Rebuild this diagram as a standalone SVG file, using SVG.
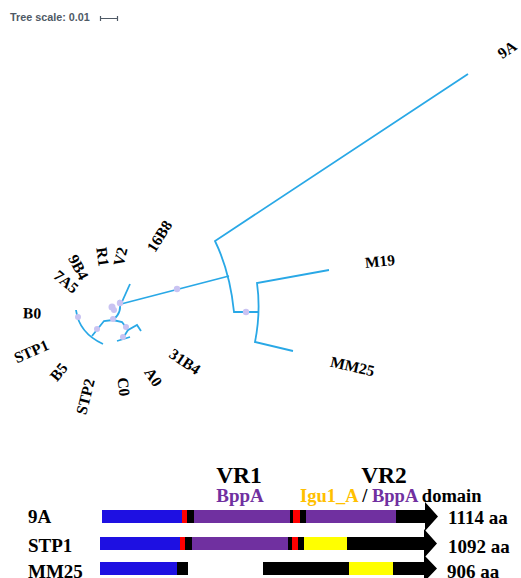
<svg xmlns="http://www.w3.org/2000/svg" width="521" height="578" viewBox="0 0 521 578">
<style>
.br{fill:none;stroke:#29a8e6;stroke-width:1.8;stroke-linejoin:miter}
.dot{fill:#c9c3f2}
.lab{font-family:"Liberation Serif","Times New Roman",serif;font-weight:bold;font-size:15.5px;fill:#000}
.big{font-family:"Liberation Serif","Times New Roman",serif;font-weight:bold}
.k{fill:#000}
.pu{fill:#7030a0}
.or{fill:#ffc000}
</style>
<rect width="521" height="578" fill="#fff"/>
<g id="scale">
<text x="10" y="21" font-family="Liberation Sans, Arial, sans-serif" font-size="10.8" font-weight="bold" fill="#4f5a66">Tree scale: 0.01</text>
<path d="M100.5,16 v5 M100.5,18.5 H117.5 M117.5,16 v5" stroke="#4f5a66" stroke-width="1.2" fill="none"/>
</g>
<g id="connectors">
<path class="br" d="M121,304 L229,276"/>
<path class="br" d="M468,74 L215,241 Q230,272 234,312 L259,312"/>
<path class="br" d="M329,270 L257,283 Q261,312 255,342 L293,351"/>
<path class="br" d="M130,284 L121,304"/>
<path class="br" d="M119,300 Q123,312 113,320"/>
<path class="br" d="M113,320 L104,321 L92,336"/>
<path class="br" d="M76,310 Q79,333 103,344"/>
<path class="br" d="M113,320 L122,322 L128,330 L137,325 L141,331"/>
<path class="br" d="M128,330 L123,338"/>
<path class="br" d="M117,341 L130,337"/>
<circle class="dot" cx="177" cy="289" r="3.2"/>
<circle class="dot" cx="246" cy="312" r="3.2"/>
<circle class="dot" cx="120" cy="303" r="3.2"/>
<circle class="dot" cx="112" cy="307" r="3.5"/>
<circle class="dot" cx="114" cy="310" r="3"/>
<circle class="dot" cx="113" cy="319" r="3"/>
<circle class="dot" cx="78" cy="317" r="3"/>
<circle class="dot" cx="97" cy="329" r="3"/>
<circle class="dot" cx="126" cy="327" r="3"/>
<circle class="dot" cx="123" cy="337" r="3"/>
</g>
<g id="leaves">
<text class="lab" transform="translate(508,51) rotate(-35)" text-anchor="middle" dominant-baseline="middle">9A</text>
<text class="lab" transform="translate(380,263) rotate(-6)" text-anchor="middle" dominant-baseline="middle">M19</text>
<text class="lab" transform="translate(352,368) rotate(13)" text-anchor="middle" dominant-baseline="middle">MM25</text>
<text class="lab" transform="translate(161,237) rotate(-58)" text-anchor="middle" dominant-baseline="middle">16B8</text>
<text class="lab" transform="translate(122,257) rotate(-76)" text-anchor="middle" dominant-baseline="middle">V2</text>
<text class="lab" transform="translate(101,257) rotate(82)" text-anchor="middle" dominant-baseline="middle">R1</text>
<text class="lab" transform="translate(77,268) rotate(62)" text-anchor="middle" dominant-baseline="middle">9B4</text>
<text class="lab" transform="translate(65,283) rotate(40)" text-anchor="middle" dominant-baseline="middle">7A5</text>
<text class="lab" transform="translate(32,315) rotate(2)" text-anchor="middle" dominant-baseline="middle">B0</text>
<text class="lab" transform="translate(32,353) rotate(-24)" text-anchor="middle" dominant-baseline="middle">STP1</text>
<text class="lab" transform="translate(60,373) rotate(-50)" text-anchor="middle" dominant-baseline="middle">B5</text>
<text class="lab" transform="translate(87,397) rotate(-76)" text-anchor="middle" dominant-baseline="middle">STP2</text>
<text class="lab" transform="translate(122,387) rotate(84)" text-anchor="middle" dominant-baseline="middle">C0</text>
<text class="lab" transform="translate(152,378) rotate(56)" text-anchor="middle" dominant-baseline="middle">A0</text>
<text class="lab" transform="translate(184,363) rotate(34)" text-anchor="middle" dominant-baseline="middle">31B4</text>
</g>
<g id="domains-header">
<text class="big k" x="239" y="483" font-size="23.5" text-anchor="middle">VR1</text>
<text class="big k" x="384" y="483" font-size="23.5" text-anchor="middle">VR2</text>
<text class="big pu" x="240" y="502" font-size="19" text-anchor="middle">BppA</text>
<text class="big k" x="300" y="502" font-size="18.5"><tspan class="or">Igu1_A</tspan><tspan class="k"> / </tspan><tspan class="pu">BppA</tspan><tspan class="k"> domain</tspan></text>
</g>
<g id="row-9A">
<text class="big k" x="28" y="523" font-size="19">9A</text>
<rect x="102" y="510" width="80" height="13" fill="#1e10e2"/>
<rect x="182" y="510" width="5" height="13" fill="#ff0000"/>
<rect x="187" y="510" width="7" height="13" fill="#000"/>
<rect x="194" y="510" width="96" height="13" fill="#7030a0"/>
<rect x="290" y="510" width="3" height="13" fill="#000"/>
<rect x="293" y="510" width="7" height="13" fill="#ff0000"/>
<rect x="300" y="510" width="6" height="13" fill="#000"/>
<rect x="306" y="510" width="90" height="13" fill="#7030a0"/>
<polygon points="396,510 425,510 425,502 438,516.5 425,531 425,523 396,523" fill="#000"/>
<text class="big k" x="448" y="524" font-size="19">1114 aa</text>
</g>
<g id="row-STP1">
<text class="big k" x="28" y="552" font-size="19">STP1</text>
<rect x="100" y="537" width="80" height="13" fill="#1e10e2"/>
<rect x="180" y="537" width="5" height="13" fill="#ff0000"/>
<rect x="185" y="537" width="7" height="13" fill="#000"/>
<rect x="192" y="537" width="96" height="13" fill="#7030a0"/>
<rect x="288" y="537" width="4" height="13" fill="#000"/>
<rect x="292" y="537" width="6" height="13" fill="#ff0000"/>
<rect x="298" y="537" width="6" height="13" fill="#000"/>
<rect x="304" y="537" width="43" height="13" fill="#ffff00"/>
<polygon points="347,537 424,537 424,529 437,543.5 424,558 424,550 347,550" fill="#000"/>
<text class="big k" x="448" y="553" font-size="19">1092 aa</text>
</g>
<g id="row-MM25">
<text class="big k" x="28" y="578" font-size="19">MM25</text>
<rect x="100" y="562" width="77" height="13" fill="#1e10e2"/>
<rect x="177" y="562" width="11" height="13" fill="#000"/>
<rect x="263" y="562" width="86" height="13" fill="#000"/>
<rect x="349" y="562" width="44" height="13" fill="#ffff00"/>
<polygon points="393,562 424,562 424,555 437,568.5 424,582 424,575 393,575" fill="#000"/>
<text class="big k" x="447" y="578" font-size="19">906 aa</text>
</g>
</svg>
